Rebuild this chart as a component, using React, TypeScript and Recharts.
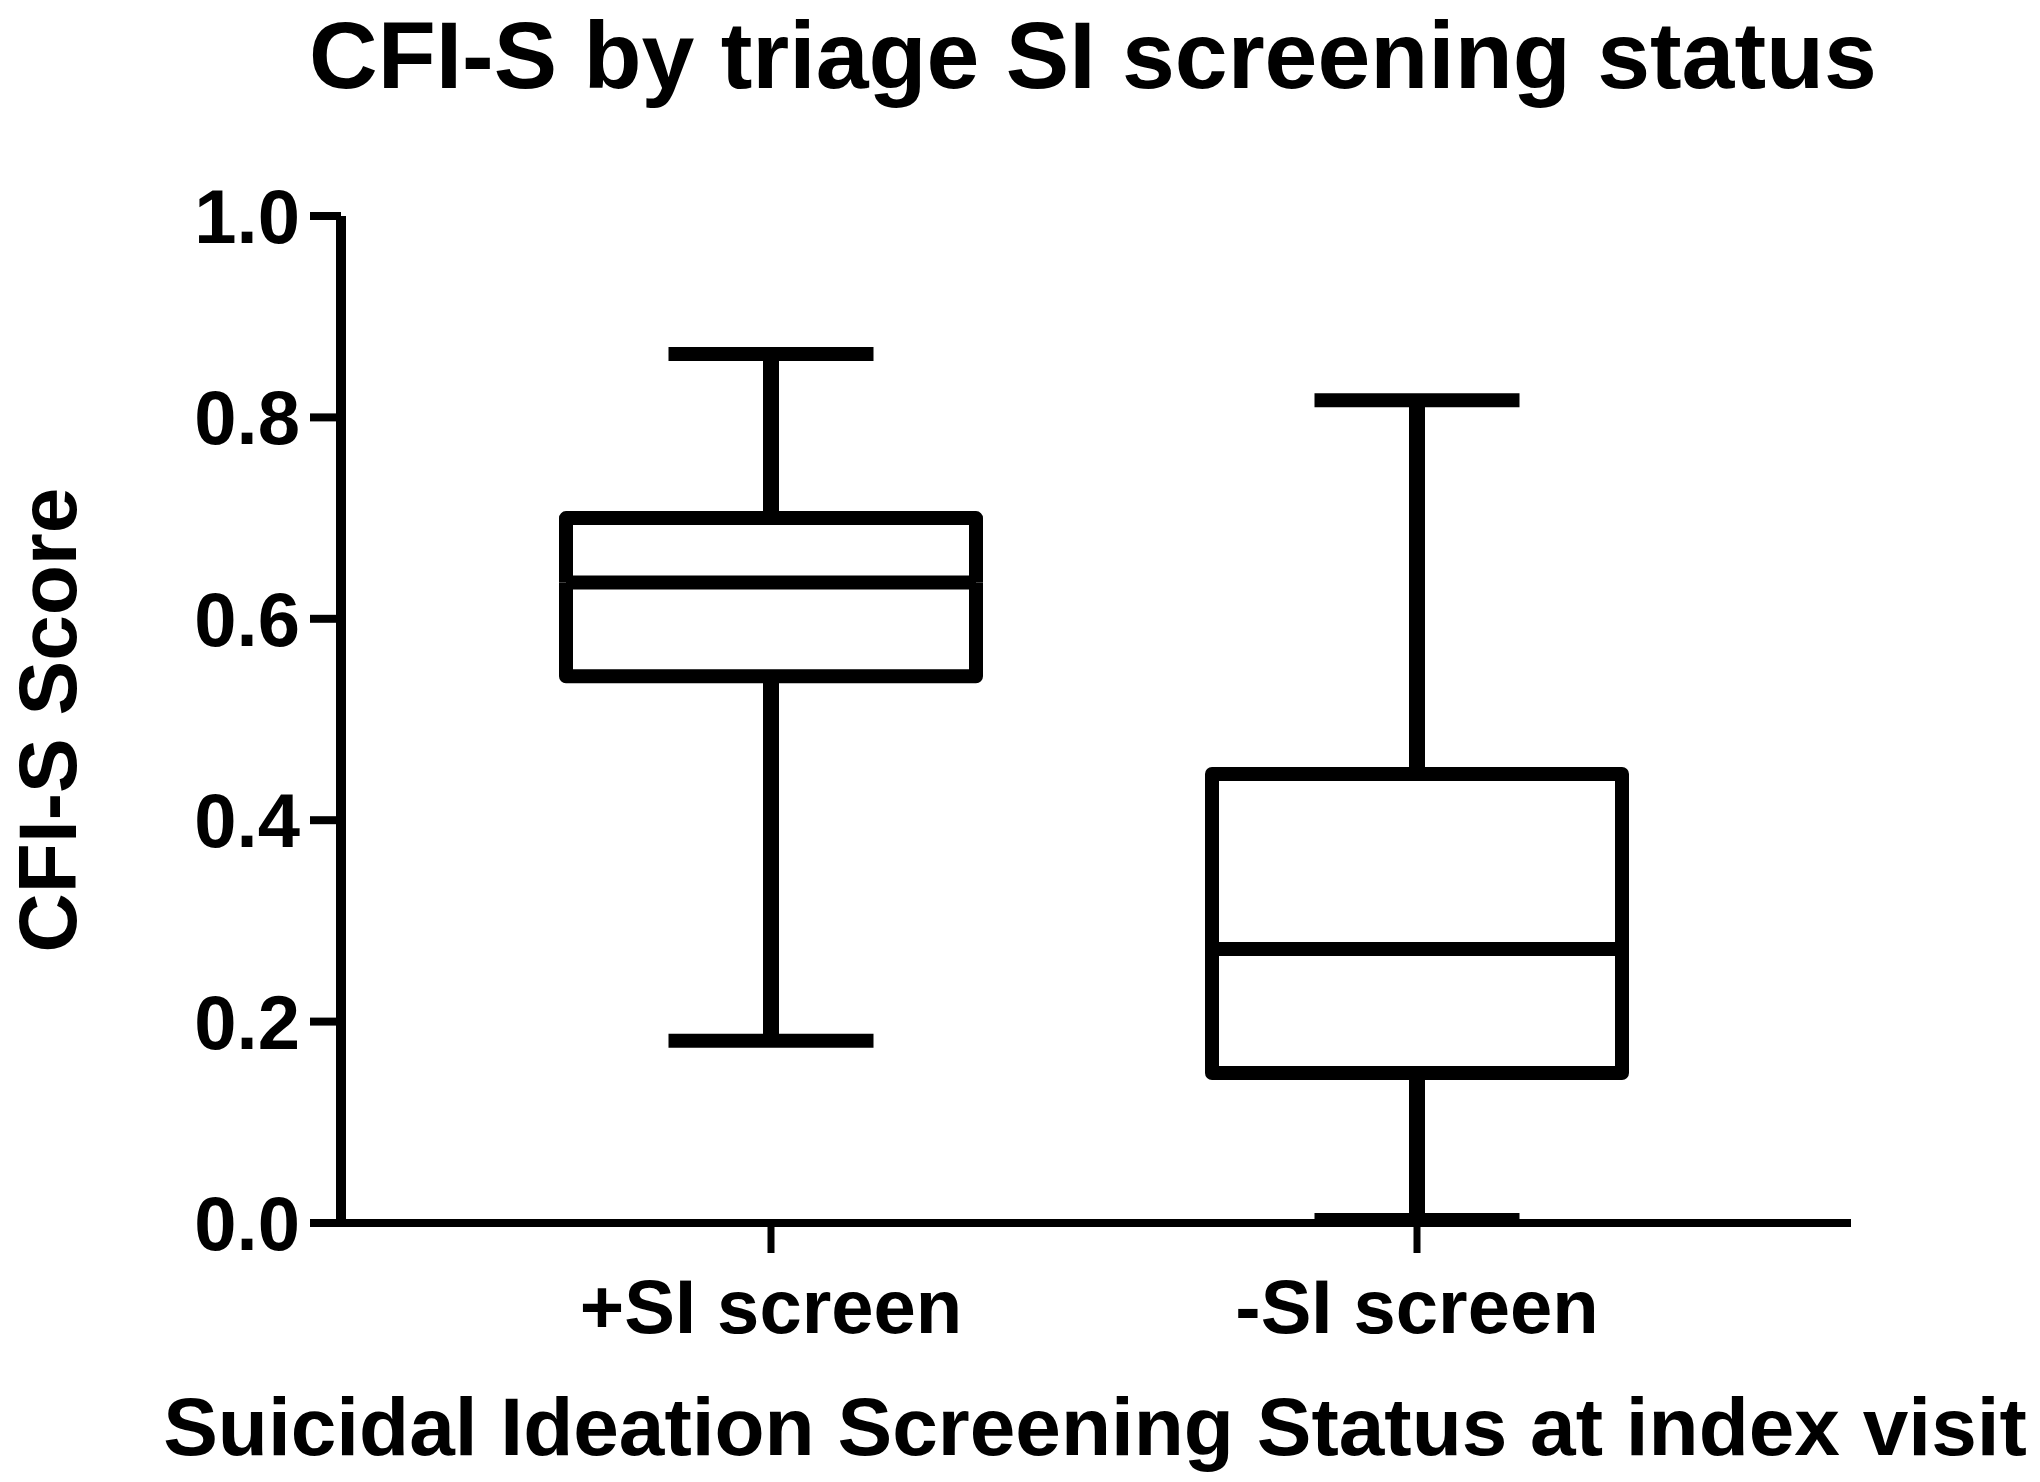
import { Bar, ComposedChart, Customized, XAxis, YAxis } from 'recharts';

const categories = ['+SI screen', '-SI screen'];
const mins = [0.181, 0.003];
const q1s = [0.543, 0.149];
const medians = [0.636, 0.272];
const q3s = [0.7, 0.446];
const maxs = [0.863, 0.817];
const yTicks = [0, 0.2, 0.4, 0.6, 0.8, 1.0];

const data = categories.map((name, i) => ({
  name,
  min: mins[i],
  lowWhisker: q1s[i] - mins[i],
  lowBox: medians[i] - q1s[i],
  highBox: q3s[i] - medians[i],
  highWhisker: maxs[i] - q3s[i],
}));

const FONT = '"Liberation Sans", Arial, Helvetica, sans-serif';
const LINE = 14;

const MinCap = ({ x, y, width }: any) => {
  const cx = x + width / 2;
  return <line x1={cx - width / 4} x2={cx + width / 4} y1={y} y2={y} stroke="#000" strokeWidth={LINE} />;
};

const LowWhisker = ({ x, y, width, height }: any) => {
  const cx = x + width / 2;
  return <line x1={cx} x2={cx} y1={y} y2={y + height} stroke="#000" strokeWidth={LINE + 2} />;
};

const LowBox = ({ x, y, width, height }: any) => (
  <g fill="none" stroke="#000" strokeWidth={LINE} strokeLinejoin="round">
    <path d={`M${x},${y} L${x},${y + height} L${x + width},${y + height} L${x + width},${y}`} />
    <line x1={x} x2={x + width} y1={y} y2={y} />
  </g>
);

const HighBox = ({ x, y, width, height }: any) => (
  <path
    d={`M${x},${y + height} L${x},${y} L${x + width},${y} L${x + width},${y + height}`}
    fill="none"
    stroke="#000"
    strokeWidth={LINE}
    strokeLinejoin="round"
  />
);

const HighWhisker = ({ x, y, width, height }: any) => {
  const cx = x + width / 2;
  return (
    <g stroke="#000">
      <line x1={cx} x2={cx} y1={y} y2={y + height} strokeWidth={LINE + 2} />
      <line x1={cx - width / 4} x2={cx + width / 4} y1={y} y2={y} strokeWidth={LINE} />
    </g>
  );
};

const YTick = ({ x, y, payload }: any) => (
  <text x={x} y={y} dy="0.355em" textAnchor="end" fontFamily={FONT} fontWeight="bold" fontSize={76} fill="#000">
    {Number(payload.value).toFixed(1)}
  </text>
);

const XTick = ({ x, y, payload }: any) => (
  <text x={x} y={y + 80} textAnchor="middle" fontFamily={FONT} fontWeight="bold" fontSize={76} fill="#000">
    {payload.value}
  </text>
);

const Titles = () => (
  <g fontFamily={FONT} fontWeight="bold" fill="#000">
    <text x={1093} y={88} textAnchor="middle" fontSize={95}>
      CFI-S by triage SI screening status
    </text>
    <text x={1095} y={1455} textAnchor="middle" fontSize={82}>
      Suicidal Ideation Screening Status at index visit
    </text>
    <text x={76} y={720} textAnchor="middle" fontSize={82} transform="rotate(-90 76 720)">
      CFI-S Score
    </text>
  </g>
);

export default function App() {
  return (
    <div style={{ position: 'absolute', left: 0, top: 0, background: '#fff' }}>
      <ComposedChart width={2040} height={1482} data={data} margin={{ top: 216, right: 189, bottom: 0, left: 0 }}>
        <XAxis
          dataKey="name"
          type="category"
          height={259}
          padding={{ left: 107, right: 111 }}
          axisLine={{ stroke: '#000', strokeWidth: 8 }}
          tickLine={{ stroke: '#000', strokeWidth: 7 }}
          tickSize={30}
          tickMargin={0}
          tick={<XTick />}
        />
        <YAxis
          type="number"
          domain={[0, 1]}
          ticks={yTicks}
          interval={0}
          width={341}
          axisLine={{ stroke: '#000', strokeWidth: 10 }}
          tickLine={{ stroke: '#000', strokeWidth: 8 }}
          tickSize={31}
          tickMargin={10}
          tick={<YTick />}
        />
        <Bar dataKey="min" stackId="box" barSize={410} shape={<MinCap />} isAnimationActive={false} />
        <Bar dataKey="lowWhisker" stackId="box" barSize={410} shape={<LowWhisker />} isAnimationActive={false} />
        <Bar dataKey="lowBox" stackId="box" barSize={410} shape={<LowBox />} isAnimationActive={false} />
        <Bar dataKey="highBox" stackId="box" barSize={410} shape={<HighBox />} isAnimationActive={false} />
        <Bar dataKey="highWhisker" stackId="box" barSize={410} shape={<HighWhisker />} isAnimationActive={false} />
        <Customized component={<Titles />} />
      </ComposedChart>
    </div>
  );
}
